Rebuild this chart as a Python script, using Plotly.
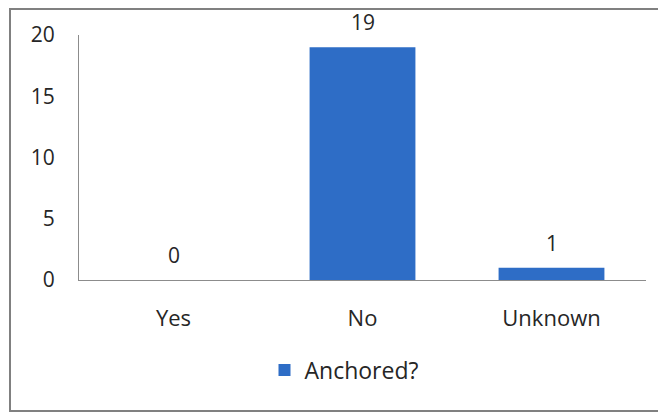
import plotly.graph_objects as go

categories = ["Yes", "No", "Unknown"]
values = [0, 19, 1]
series_name = "Anchored?"
y_ticks = [0, 5, 10, 15, 20]

# page body has an 8px default margin: the figure starts at (8, 8)
OFF = 8
W, H = 666 - OFF, 413 - OFF
L, R, T, B = 79 - OFF, 20, 35 - OFF, 133
pw, ph = W - L - R, H - T - B

def px_x(x):
    return (x - OFF - L) / pw

def px_y(y):
    return (H - B - (y - OFF)) / ph

FONT = "Open Sans"
TXT = "#262626"
fig = go.Figure()
fig.add_trace(go.Bar(
    x=categories, y=values, name=series_name,
    marker=dict(color="#2E6DC6", line=dict(width=0)),
    width=0.56,
    cliponaxis=False, showlegend=True,
))

annotations = [dict(x=c, y=v, xref="x", yref="y", text=str(v), showarrow=False,
                    yanchor="bottom", yshift=9,
                    font=dict(family=FONT, size=21, color=TXT))
               for c, v in zip(categories, values)]

fig.update_layout(
    width=W, height=H,
    margin=dict(l=L, r=R, t=T, b=B),
    paper_bgcolor="white", plot_bgcolor="white",
    font=dict(family=FONT, size=21, color=TXT),
    showlegend=True,
    legend=dict(orientation="h", x=px_x(344), y=px_y(370), xanchor="center", yanchor="middle",
                font=dict(family=FONT, size=23, color=TXT), itemwidth=30),
    xaxis=dict(showline=True, linecolor="#8c8c8c", linewidth=1, showgrid=False,
               ticks="", ticklabelstandoff=19, tickfont=dict(family=FONT, size=22)),
    yaxis=dict(range=[0, 20], tickvals=y_ticks, showline=True, linecolor="#8c8c8c", linewidth=1,
               showgrid=False, zeroline=False, ticks="", ticklabelstandoff=19,
               tickfont=dict(family=FONT, size=21)),
    annotations=annotations,
    shapes=[dict(type="rect", xref="paper", yref="paper",
                 x0=px_x(10), x1=px_x(670), y0=px_y(411), y1=px_y(9),
                 line=dict(color="#808080", width=2))],
)

fig.write_html("out.html")
